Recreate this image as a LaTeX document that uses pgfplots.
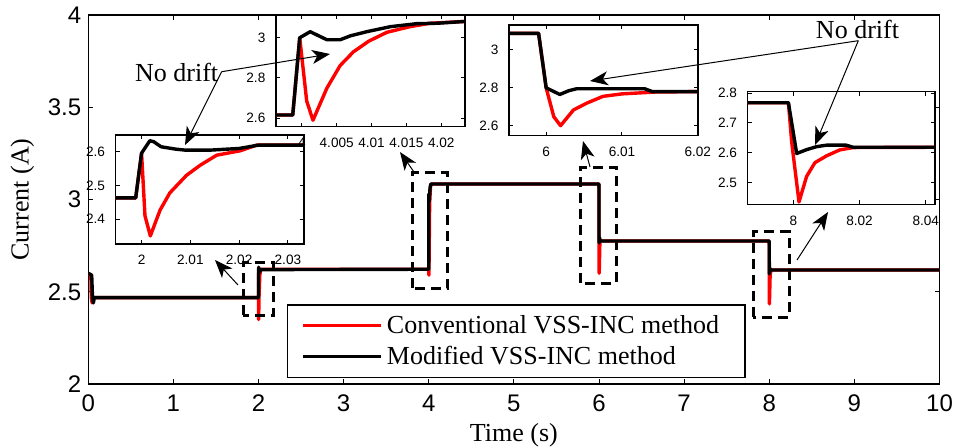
\documentclass[border=0pt]{standalone}
\usepackage{fontspec}
\setmainfont{Liberation Serif}
\newfontfamily\sansf{Liberation Sans}
\usepackage{pgfplots}
\pgfplotsset{compat=1.18}
\usetikzlibrary{arrows.meta}

\pgfplotsset{
  insetstyle/.style={
    scale only axis, axis background/.style={fill=white},
    tick align=inside, major tick length=2pt,
    tick label style={font=\sansf\fontsize{6.8}{7}\selectfont},
    /pgf/number format/assume math mode=true,
    xticklabel style={yshift=-2.2pt}, yticklabel style={xshift=-1.8pt},
    axis line style={line width=0.7pt}, every tick/.style={black, line width=0.5pt},
  },
  redl/.style={red, line width=1.7pt, line join=round, no marks},
  blkl/.style={black, line width=1.7pt, line join=round, no marks},
}
\tikzset{annarrow/.style={line width=0.5pt, -{Stealth[length=9pt, width=7pt, inset=2.5pt]}}}

\begin{document}
\begin{tikzpicture}
\useasboundingbox (0,0) rectangle (478pt,223.5pt);

% ---------------- main axis ----------------
\begin{axis}[
  at={(44.15pt,31.5pt)}, anchor=south west,
  scale only axis, width=425.6pt, height=184.5pt,
  xmin=0, xmax=10, ymin=2, ymax=4,
  xtick={0,1,2,3,4,5,6,7,8,9,10},
  xticklabels={0,1,2,3,4,5,6,7,8,9,10},
  ytick={2,2.5,3,3.5,4},
  yticklabels={2,2.5,3,3.5,4},
  tick align=inside, major tick length=2.5pt,
  tick label style={font=\sansf\fontsize{12}{12}\selectfont},
  /pgf/number format/assume math mode=true,
  xticklabel style={yshift=-2pt},
  axis line style={line width=0.6pt}, every tick/.style={black, line width=0.5pt},
  xlabel={Time (s)}, ylabel={Current (A)},
  every axis x label/.style={at={(axis description cs:0.5,-0.157)}, anchor=base, font=\fontsize{13}{13}\selectfont},
  every axis y label/.style={at={(axis description cs:-0.0775,0.5)}, rotate=90, anchor=center, font=\fontsize{13}{13}\selectfont},
  legend style={at={(0.2334,0.0163)}, anchor=south west, draw=black, line width=0.6pt,
    font=\fontsize{13}{13}\selectfont, inner xsep=7pt, inner ysep=3pt, row sep=1pt},
  legend cell align=left,
  legend image code/.code={\draw[#1] (0pt,0pt) -- (39pt,0pt);},
]
\addplot[redl] coordinates {
(0,2.6) (0.03,2.59) (0.035,2.47) (0.045,2.44) (0.06,2.468) (1.999,2.468)
(2.0,2.6) (2.001,2.35) (2.006,2.48) (2.015,2.59) (2.025,2.622) (3.999,2.622)
(4.0,3.0) (4.0016,2.59) (4.01,2.98) (4.02,3.07) (4.03,3.084) (5.999,3.084)
(6.0,2.8) (6.002,2.6) (6.01,2.768) (6.02,2.775) (7.999,2.775)
(8.0,2.63) (8.0017,2.434) (8.01,2.589) (8.02,2.618) (10,2.618)
};
\addlegendentry{\makebox[170pt][l]{Conventional VSS-INC method}}
\addplot[blkl] coordinates {
(0,2.6) (0.04,2.59) (0.05,2.46) (0.06,2.44) (0.07,2.468) (1.999,2.468)
(2.0,2.596) (2.002,2.633) (2.01,2.605) (2.025,2.62) (3.999,2.622)
(4.0,3.0) (4.0012,3.03) (4.005,2.99) (4.015,3.065) (4.025,3.084) (5.999,3.084)
(6.0,2.8) (6.002,2.765) (6.005,2.795) (6.015,2.775) (7.999,2.775)
(8.001,2.597) (8.01,2.625) (8.02,2.618) (10,2.618)
};
\addlegendentry{Modified VSS-INC method}
\begin{scope}[line width=1.5pt, dash pattern=on 5pt off 3pt]
\draw (axis cs:1.82,2.374) rectangle (axis cs:2.18,2.656);
\draw (axis cs:3.81,2.52) rectangle (axis cs:4.22,3.144);
\draw (axis cs:5.785,2.547) rectangle (axis cs:6.2,3.176);
\draw (axis cs:7.81,2.363) rectangle (axis cs:8.24,2.824);
\end{scope}
\end{axis}

% ---------------- inset 1 (t = 2) ----------------
\begin{axis}[insetstyle,
  at={(57.85pt,101.5pt)}, anchor=south west, width=94.15pt, height=54.5pt,
  xmin=1.9947, xmax=2.0333, ymin=2.326, ymax=2.65,
  xtick={2,2.01,2.02,2.03}, xticklabels={2,2.01,2.02,2.03},
  ytick={2.4,2.5,2.6}, yticklabels={2.4,2.5,2.6},
]
\addplot[redl] coordinates {
(1.9947,2.463) (1.9988,2.463) (2.0,2.596) (2.0007,2.41) (2.0018,2.35) (2.0038,2.427)
(2.0058,2.478) (2.0092,2.53) (2.012,2.56) (2.0154,2.59) (2.0202,2.603) (2.0236,2.62) (2.0333,2.62)
};
\addplot[blkl] coordinates {
(1.9947,2.463) (1.9988,2.463) (2.0,2.596) (2.0017,2.633) (2.0025,2.63) (2.004,2.615)
(2.007,2.608) (2.009,2.605) (2.014,2.605) (2.02,2.61) (2.024,2.62) (2.0333,2.62)
};
\end{axis}

% ---------------- inset 2 (t = 4) ----------------
\begin{axis}[insetstyle,
  at={(138pt,160.15pt)}, anchor=south west, width=94.5pt, height=55.85pt,
  xmin=3.9963, xmax=4.0234, ymin=2.558, ymax=3.113,
  xtick={4,4.005,4.01,4.015,4.02}, xticklabels={4,4.005,4.01,4.015,4.02},
  ytick={2.6,2.8,3}, yticklabels={2.6,2.8,3},
]
\addplot[redl] coordinates {
(3.9963,2.616) (3.9987,2.616) (3.9997,3.0) (4.0007,2.686) (4.0016,2.59) (4.0036,2.75)
(4.0055,2.862) (4.0074,2.93) (4.0096,2.983) (4.0122,3.027) (4.0155,3.055) (4.0184,3.072) (4.0234,3.081)
};
\addplot[blkl] coordinates {
(3.9963,2.616) (3.9987,2.616) (3.9997,3.0) (4.0012,3.03) (4.0024,3.01) (4.0036,2.99)
(4.0055,2.99) (4.007,3.01) (4.0093,3.03) (4.0127,3.055) (4.0165,3.07) (4.0194,3.072) (4.0234,3.081)
};
\end{axis}

% ---------------- inset 3 (t = 6) ----------------
\begin{axis}[insetstyle,
  at={(254.5pt,155.65pt)}, anchor=south west, width=94.4pt, height=55.35pt,
  xmin=5.9951, xmax=6.02, ymin=2.547, ymax=3.132,
  xtick={6,6.01,6.02}, xticklabels={6,6.01,6.02},
  ytick={2.6,2.8,3}, yticklabels={2.6,2.8,3},
]
\addplot[redl] coordinates {
(5.9951,3.088) (5.999,3.088) (6.0,2.8) (6.001,2.648) (6.0019,2.6) (6.0036,2.683)
(6.0054,2.72) (6.0075,2.755) (6.01,2.768) (6.0145,2.778) (6.02,2.78)
};
\addplot[blkl] coordinates {
(5.9951,3.088) (5.999,3.088) (6.0,2.8) (6.0018,2.765) (6.003,2.785) (6.004,2.795)
(6.013,2.795) (6.014,2.78) (6.02,2.78)
};
\end{axis}

% ---------------- inset 4 (t = 8) ----------------
\begin{axis}[insetstyle,
  at={(373.85pt,121.35pt)}, anchor=south west, width=93.65pt, height=56.3pt,
  xmin=7.9862, xmax=8.0428, ymin=2.426, ymax=2.805,
  xtick={8,8.02,8.04}, xticklabels={8,8.02,8.04},
  ytick={2.5,2.6,2.7,2.8}, yticklabels={2.5,2.6,2.7,2.8},
]
\addplot[redl] coordinates {
(7.9862,2.768) (7.9985,2.768) (7.9995,2.634) (8.0017,2.434) (8.004,2.52) (8.0065,2.566)
(8.01,2.589) (8.014,2.609) (8.018,2.617) (8.0428,2.618)
};
\addplot[blkl] coordinates {
(7.9862,2.768) (7.9985,2.768) (8.001,2.597) (8.004,2.61) (8.007,2.62) (8.01,2.625)
(8.016,2.625) (8.018,2.618) (8.0428,2.618)
};
\end{axis}

% ---------------- annotations (pixel coordinates) ----------------
\begin{scope}[shift={(0pt,223.5pt)}, x=0.5pt, y=-0.5pt]
\draw[annarrow] (238,285) -- (215,260);
\draw[annarrow] (414,172) -- (400,152);
\draw[annarrow] (590,167) -- (583,141);
\draw[annarrow] (797,260) -- (828,212);
\node[font=\fontsize{13}{13}\selectfont, inner sep=0pt] at (176.7,72.5) {No drift};
\draw[annarrow] (221.7,71.7) -- (330,54);
\draw[annarrow] (221.7,71.7) -- (185,145);
\node[font=\fontsize{13}{13}\selectfont, inner sep=0pt] at (857.5,29) {No drift};
\draw[annarrow] (858.3,40.7) -- (590,81);
\draw[annarrow] (858.3,40.7) -- (815,145);
\end{scope}
\end{tikzpicture}
\end{document}
